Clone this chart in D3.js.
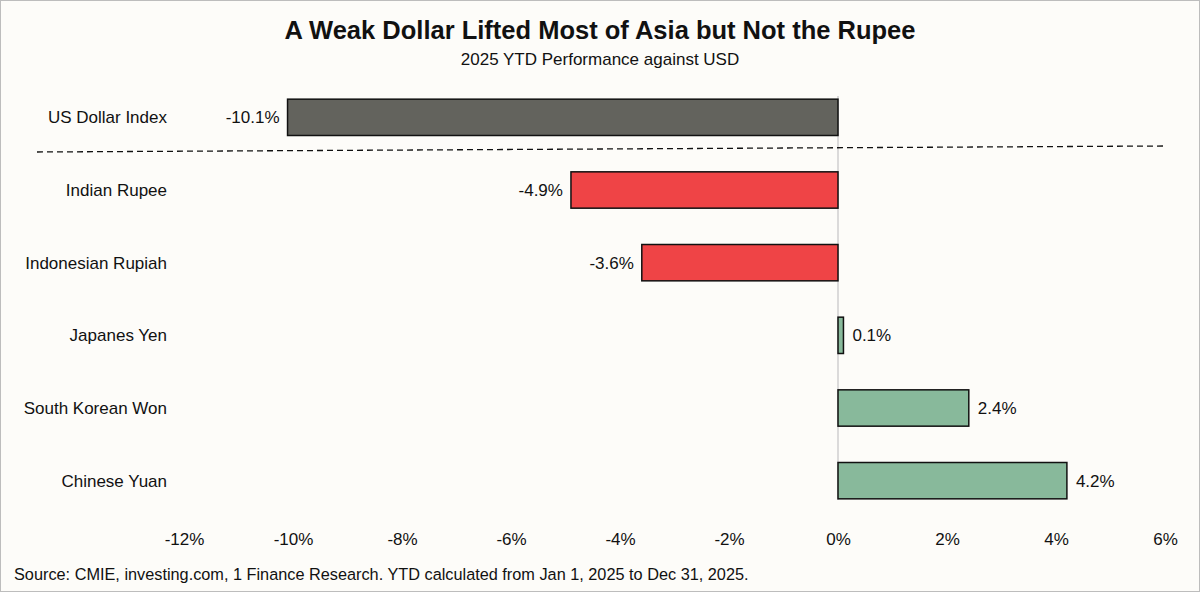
<!DOCTYPE html>
<html><head><meta charset="utf-8">
<script src="https://cdn.jsdelivr.net/npm/d3@7"></script>
<style>
body{margin:0;background:#fff;}
svg{display:block;font-family:Arial,"Liberation Sans",sans-serif;}
</style></head>
<body><svg id="chart" width="1200" height="592"></svg>
<script>
const categories = ["US Dollar Index", "Indian Rupee", "Indonesian Rupiah", "Japanes Yen", "South Korean Won", "Chinese Yuan"];
const values = [-10.1, -4.9, -3.6, 0.1, 2.4, 4.2];
const barColors = ["#63635d", "#ef4446", "#ef4446", "#88b99b", "#88b99b", "#88b99b"];
const tickValues = [-12, -10, -8, -6, -4, -2, 0, 2, 4, 6];

const svg = d3.select("#chart");
svg.append("rect").attr("x", 0.5).attr("y", 0.5).attr("width", 1199).attr("height", 591)
  .attr("fill", "#fdfcf9").attr("stroke", "#bdbdbd");

const x = d3.scaleLinear().domain([-12, 6]).range([184, 1165]);
const y = d3.scaleBand().domain(categories).range([81, 517]).paddingInner(0.5).paddingOuter(0.25);

svg.append("text").attr("x", 600).attr("y", 39).attr("text-anchor", "middle")
  .attr("font-size", 25.5).attr("font-weight", "bold").attr("fill", "#111")
  .text("A Weak Dollar Lifted Most of Asia but Not the Rupee");
svg.append("text").attr("x", 600).attr("y", 65).attr("text-anchor", "middle")
  .attr("font-size", 17).attr("fill", "#111").text("2025 YTD Performance against USD");

// zero line
svg.append("line").attr("x1", x(0)).attr("x2", x(0)).attr("y1", 96).attr("y2", 500)
  .attr("stroke", "#cfcfcf").attr("stroke-width", 1.5);

// separator
svg.append("line").attr("x1", 37).attr("x2", 1163).attr("y1", 152).attr("y2", 146)
  .attr("stroke", "#111").attr("stroke-width", 1.3).attr("stroke-dasharray", "6,4");

svg.selectAll("rect.bar").data(categories).join("rect").attr("class", "bar")
  .attr("x", (d, i) => x(Math.min(0, values[i])))
  .attr("y", d => y(d))
  .attr("width", (d, i) => Math.abs(x(values[i]) - x(0)))
  .attr("height", y.bandwidth())
  .attr("fill", (d, i) => barColors[i])
  .attr("stroke", "#111").attr("stroke-width", 1.5);

svg.selectAll("text.val").data(categories).join("text").attr("class", "val")
  .attr("x", (d, i) => values[i] < 0 ? x(values[i]) - 8 : x(values[i]) + 9)
  .attr("y", d => y(d) + y.bandwidth() / 2)
  .attr("dy", "0.35em")
  .attr("text-anchor", (d, i) => values[i] < 0 ? "end" : "start")
  .attr("font-size", 17).attr("fill", "#111")
  .text((d, i) => values[i].toFixed(1) + "%");

svg.selectAll("text.cat").data(categories).join("text").attr("class", "cat")
  .attr("x", 167).attr("y", d => y(d) + y.bandwidth() / 2).attr("dy", "0.35em")
  .attr("text-anchor", "end").attr("font-size", 17).attr("fill", "#111").text(d => d);

const axis = svg.append("g").attr("transform", "translate(0,539)")
  .call(d3.axisBottom(x).tickValues(tickValues).tickSize(0).tickFormat(d => d + "%"));
axis.select(".domain").remove();
axis.selectAll("text").attr("font-size", 17).attr("fill", "#111")
  .attr("font-family", "Arial,'Liberation Sans',sans-serif").attr("dy", "0.35em").attr("y", 0);

svg.append("text").attr("x", 14).attr("y", 580).attr("font-size", 16.3).attr("fill", "#111")
  .text("Source: CMIE, investing.com, 1 Finance Research. YTD calculated from Jan 1, 2025 to Dec 31, 2025.");
</script></body></html>
